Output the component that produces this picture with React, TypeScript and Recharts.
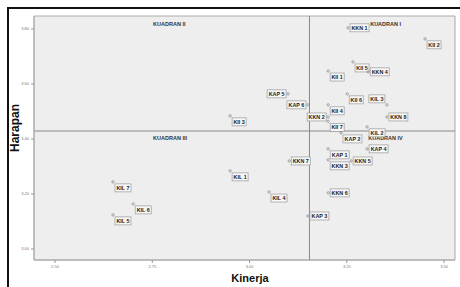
import React from 'react';
import { ScatterChart, Scatter, XAxis, YAxis, ReferenceLine, ReferenceArea } from 'recharts';

// indikator, kinerja (x), harapan (y)
const labels = [
  'KKN 1', 'KII 2', 'KII 5', 'KKN 4', 'KII 1', 'KII 6', 'KIL 3', 'KKN 8', 'KII 4', 'KKN 2',
  'KII 7', 'KAP 2', 'KIL 2', 'KAP 6', 'KAP 5', 'KII 3', 'KAP 4', 'KAP 1', 'KKN 3', 'KKN 5',
  'KKN 6', 'KAP 3', 'KKN 7', 'KIL 1', 'KIL 4', 'KIL 7', 'KIL 6', 'KIL 5',
];
const kinerja = [
  3.253, 3.451, 3.266, 3.305, 3.202, 3.251, 3.353, 3.353, 3.202, 3.202,
  3.202, 3.235, 3.302, 3.15, 3.099, 2.95, 3.302, 3.202, 3.202, 3.261,
  3.202, 3.15, 3.102, 2.95, 3.05, 2.649, 2.701, 2.649,
];
const harapan = [
  3.804, 3.764, 3.68, 3.644, 3.647, 3.564, 3.524, 3.48, 3.524, 3.48,
  3.464, 3.422, 3.444, 3.524, 3.564, 3.484, 3.364, 3.364, 3.324, 3.32,
  3.204, 3.12, 3.32, 3.284, 3.207, 3.244, 3.164, 3.124,
];
// where the label box sits next to its point
const labelSide = [
  'r', 'br', 'br', 'r', 'br', 'br', 'tl', 'r', 'br', 'l',
  'br', 'br', 'br', 'l', 'l', 'br', 'r', 'br', 'br', 'r',
  'r', 'r', 'r', 'br', 'br', 'br', 'br', 'br',
];

const quadrantNames = ['KUADRAN I', 'KUADRAN II', 'KUADRAN III', 'KUADRAN IV'];
const quadrantX = [3.31, 2.752, 2.752, 3.305];
const quadrantY = [3.811, 3.811, 3.396, 3.396];

const xTicks = [2.5, 2.75, 3.0, 3.25, 3.5];
const yTicks = [3.0, 3.2, 3.4, 3.6, 3.8];
const meanKinerja = 3.154;
const meanHarapan = 3.429;

const points = labels.map((name, i) => ({ name, x: kinerja[i], y: harapan[i], side: labelSide[i] }));
const quadrants = quadrantNames.map((name, i) => ({ name, x: quadrantX[i], y: quadrantY[i] }));

const FONT = '"Liberation Sans", Arial, sans-serif';

function PointShape(props: any) {
  const { cx, cy, payload } = props;
  const text: string = payload.name;
  const w = text.startsWith('KII') ? 14 : text.startsWith('KIL') ? 16 : 19;
  const h = 8;
  let bx = cx + 2;
  let by = cy - 4;
  if (payload.side === 'l') bx = cx - w - 2;
  if (payload.side === 'br') by = cy + 2;
  if (payload.side === 'tl') {
    bx = cx - w - 2;
    by = cy - h - 2;
  }
  return (
    <g>
      <circle cx={cx} cy={cy} r={1.2} fill="none" stroke="#777" strokeWidth={0.6} />
      <rect x={bx} y={by} width={w} height={h} fill="#f7f7f7" stroke="#999" strokeWidth={0.7} />
      <text
        x={bx + w / 2}
        y={by + h / 2 + 2}
        textAnchor="middle"
        fontSize={5.4}
        fontWeight="bold"
        fontFamily={FONT}
        fill="#222"
      >
        {text}
      </text>
    </g>
  );
}

function QuadrantShape(props: any) {
  const { cx, cy, payload } = props;
  return (
    <text x={cx} y={cy} fontSize={5.5} fontWeight="bold" fontFamily={FONT} fill="#333">
      {payload.name}
    </text>
  );
}

export default function App() {
  return (
    <div style={{ position: 'absolute', left: 0, top: 0, width: 460, height: 287, overflow: 'hidden', background: '#fff' }}>
      <div
        style={{
          position: 'absolute',
          left: 7,
          top: 7,
          width: 470,
          height: 300,
          border: '2px solid #111',
        }}
      />
      <div style={{ position: 'absolute', left: 0, top: 0 }}>
        <ScatterChart width={460} height={287} margin={{ top: 16, right: 5, bottom: 7, left: 8 }}>
          <XAxis
            type="number"
            dataKey="x"
            domain={[2.446, 3.528]}
            ticks={xTicks}
            allowDataOverflow
            height={20}
            tickFormatter={(v: number) => v.toFixed(2)}
            tick={{ fontSize: 4, fill: '#777', fontFamily: FONT }}
            tickSize={3}
            axisLine={{ stroke: '#aaa' }}
            tickLine={{ stroke: '#999' }}
          />
          <YAxis
            type="number"
            dataKey="y"
            domain={[2.96, 3.847]}
            ticks={yTicks}
            allowDataOverflow
            width={26}
            tickFormatter={(v: number) => v.toFixed(2)}
            tick={{ fontSize: 4, fill: '#777', fontFamily: FONT }}
            tickSize={3}
            axisLine={{ stroke: '#aaa' }}
            tickLine={{ stroke: '#999' }}
          />
          <ReferenceArea x1={2.446} x2={3.528} y1={2.96} y2={3.847} fill="#eeeeee" fillOpacity={1} stroke="#aaa" strokeWidth={1} />
          <ReferenceLine x={meanKinerja} stroke="#888" strokeWidth={1} />
          <ReferenceLine y={meanHarapan} stroke="#888" strokeWidth={1} />
          <Scatter data={quadrants} shape={QuadrantShape} isAnimationActive={false} />
          <Scatter data={points} shape={PointShape} isAnimationActive={false} />
        </ScatterChart>
      </div>
      <div
        style={{
          position: 'absolute',
          left: 15,
          top: 128,
          transform: 'translate(-50%, -50%) rotate(-90deg)',
          fontFamily: FONT,
          fontWeight: 'bold',
          fontSize: 12,
          color: '#111',
        }}
      >
        Harapan
      </div>
      <div
        style={{
          position: 'absolute',
          left: 250,
          top: 278,
          transform: 'translate(-50%, -50%)',
          fontFamily: FONT,
          fontWeight: 'bold',
          fontSize: 11,
          color: '#111',
        }}
      >
        Kinerja
      </div>
    </div>
  );
}
